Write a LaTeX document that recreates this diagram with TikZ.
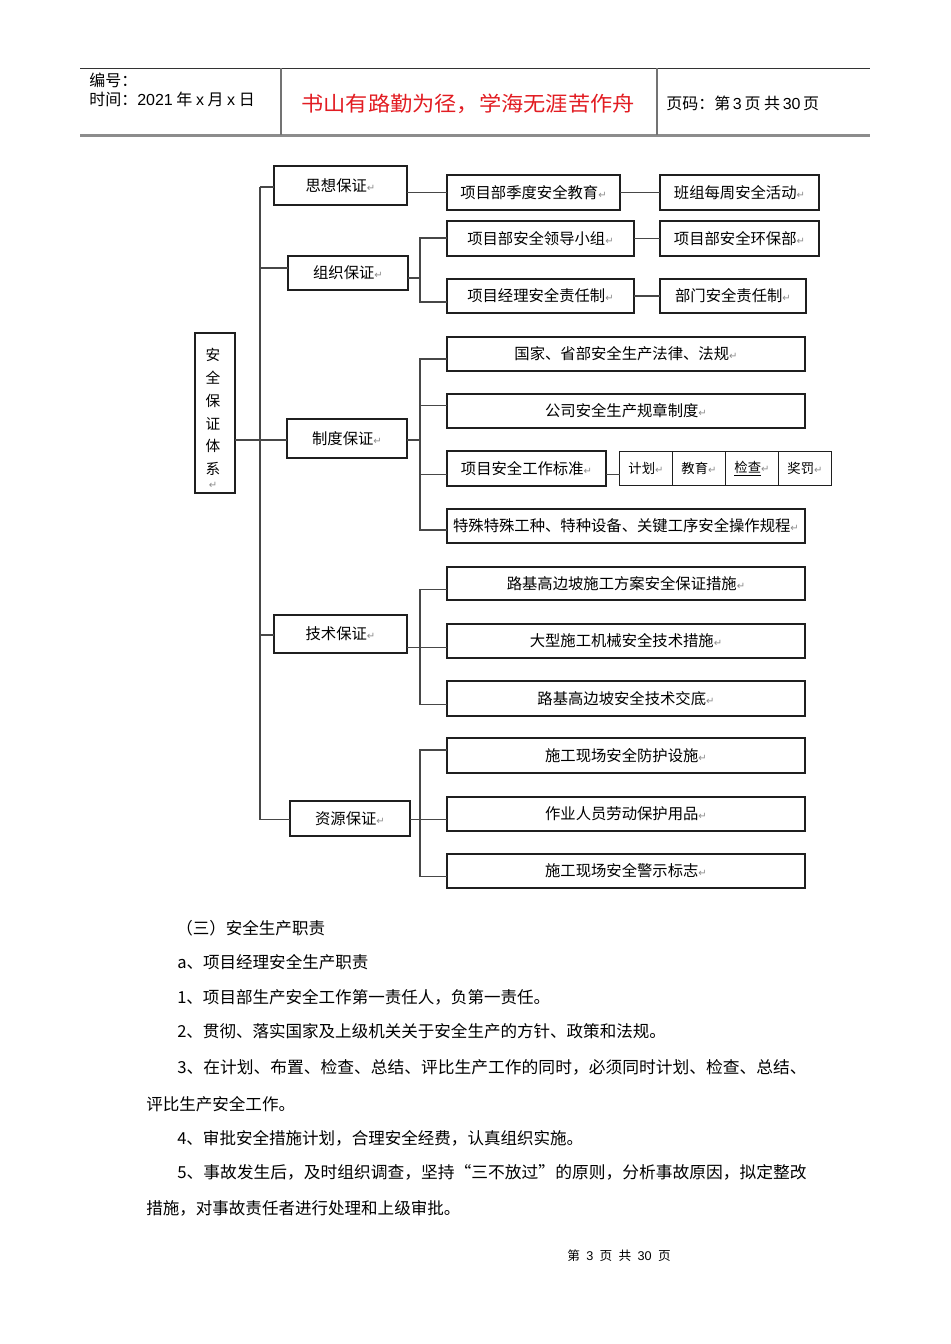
\documentclass[tikz,border=0pt]{standalone}
\usepackage{fontspec}
\usepackage{graphicx}
\setmainfont{Noto Sans CJK SC}
\newfontfamily\dvsfont{DejaVu Sans}
\newfontfamily\arialfont{Liberation Sans}
\definecolor{titlered}{RGB}{226,28,34}
\newcommand{\pmark}{{\dvsfont\fontsize{7.5pt}{7.5pt}\selectfont\textcolor{black!45}{↵}}}
\newcommand{\mybox}[6]{\node[box, minimum width={(#4-#2)*0.75pt}, minimum height={(#5-#3)*0.75pt}] (#1) at ({(#2+#4)/2},{(#3+#5)/2}) {#6};}
\tikzset{
  box/.style={draw=black!88, line width=1pt, inner sep=0pt, outer sep=0pt, fill=white, font=\fontsize{11.5pt}{13pt}\selectfont},
  link/.style={draw=black!72, line width=1pt},
  body/.style={anchor=west, inner sep=0pt, font=\fontsize{12.4pt}{14pt}\selectfont},
  head/.style={anchor=west, inner sep=0pt, font=\fontsize{12pt}{14pt}\selectfont},
}
\begin{document}
\begin{tikzpicture}[x=0.75pt,y=-0.75pt]
\fill[white] (0,0) rectangle (950,1344);
\useasboundingbox (0,0) rectangle (950,1344);

% ---------- header ----------
\draw[black!80, line width=0.9pt] (80,68.5) -- (870,68.5);
\draw[black!45, line width=1.6pt] (80,135.5) -- (870,135.5);
\draw[black!55, line width=0.8pt] (281,68.5) -- (281,135);
\draw[black!55, line width=0.8pt] (657,68.5) -- (657,135);
\node[head] (bianhao) at (89,80) {编号：};
\node[head] (shijian) at (89,99.5) {时间：{\arialfont 2021} 年 {\arialfont x} 月 {\arialfont x} 日};
\node[inner sep=0pt, font=\fontsize{15.5pt}{18pt}\selectfont, text=titlered] (title) at (468,104) {\resizebox{250pt}{\height}{书山有路勤为径，学海无涯苦作舟}};
\node[head] (yema) at (666,103) {页码：第\,{\arialfont 3}\,页\ 共\,{\arialfont 30}\,页};

% ---------- chart boxes ----------
\mybox{sys}{195}{333}{235}{493}{}
\node[inner sep=0pt, align=center, font=\fontsize{11pt}{17.1pt}\selectfont] (systext) at (213,412) {安\\全\\保\\证\\体\\系};
\node[inner sep=0pt] (systail) at (213,485) {\pmark};

\mybox{sixiang}{274}{166}{407}{205}{思想保证\pmark}
\mybox{jiaoyu}{447}{175}{620}{210}{项目部季度安全教育\pmark}
\mybox{banzu}{660}{175}{819}{210}{班组每周安全活动\pmark}

\mybox{zuzhi}{288}{256}{408}{290}{组织保证\pmark}
\mybox{lingdao}{447}{221}{634}{256}{项目部安全领导小组\pmark}
\mybox{huanbao}{660}{221}{819}{256}{项目部安全环保部\pmark}
\mybox{zeren}{447}{279}{634}{313}{项目经理安全责任制\pmark}
\mybox{bumen}{660}{279}{806}{313}{部门安全责任制\pmark}

\mybox{zhidu}{287}{419}{407}{458}{制度保证\pmark}
\mybox{guojia}{447}{337}{805}{371}{国家、省部安全生产法律、法规\pmark}
\mybox{gongsi}{447}{394}{805}{428}{公司安全生产规章制度\pmark}
\mybox{biaozhun}{447}{451}{606}{486}{项目安全工作标准\pmark}
\mybox{jihua}{619.5}{451.5}{672.5}{485.5}{{\fontsize{10pt}{12pt}\selectfont 计划}\pmark}
\mybox{jiaoyusub}{672.5}{451.5}{725.5}{485.5}{{\fontsize{10pt}{12pt}\selectfont 教育}\pmark}
\mybox{jiancha}{725.5}{451.5}{778.5}{485.5}{{\fontsize{10pt}{12pt}\selectfont \underline{检查}}\pmark}
\mybox{jiangfa}{778.5}{451.5}{831.5}{485.5}{{\fontsize{10pt}{12pt}\selectfont 奖罚}\pmark}
\mybox{teshu}{447}{509}{805}{543}{特殊特殊工种、特种设备、关键工序安全操作规程\pmark}

\mybox{jishu}{274}{615}{407}{653}{技术保证\pmark}
\mybox{lujifa}{447}{567}{805}{600}{路基高边坡施工方案安全保证措施\pmark}
\mybox{daxing}{447}{624}{805}{658}{大型施工机械安全技术措施\pmark}
\mybox{jiaodi}{447}{681}{805}{716}{路基高边坡安全技术交底\pmark}

\mybox{ziyuan}{290}{801}{410}{836}{资源保证\pmark}
\mybox{fanghu}{447}{738}{805}{773}{施工现场安全防护设施\pmark}
\mybox{zuoye}{447}{797}{805}{831}{作业人员劳动保护用品\pmark}
\mybox{jingshi}{447}{854}{805}{888}{施工现场安全警示标志\pmark}

% ---------- spine ----------
\coordinate (s1) at (260,187);
\coordinate (s2) at (260,268);
\coordinate (s3) at (260,440);
\coordinate (s4) at (260,635);
\coordinate (s5) at (260,819.5);
\draw[link] (s1) -- (s5);
\draw[link] (s1) -- (s1 -| sixiang.west);
\draw[link] (s2) -- (s2 -| zuzhi.west);
\draw[link] (sys.east |- s3) -- (s3) -- (s3 -| zhidu.west);
\draw[link] (s4) -- (s4 -| jishu.west);
\draw[link] (s5) -- (s5 -| ziyuan.west);

% ---------- 思想保证 ----------
\draw[link] (sixiang.east |- jiaoyu.west) -- (jiaoyu.west);
\draw[link] (jiaoyu.east) -- (jiaoyu.east -| banzu.west);

% ---------- 组织保证 ----------
\coordinate (z0) at (420,278);
\coordinate (z1) at (420,238);
\coordinate (z2) at (420,302);
\draw[link] (z0 -| zuzhi.east) -- (z0);
\draw[link] (z1 -| lingdao.west) -- (z1) -- (z2) -- (z2 -| zeren.west);
\draw[link] (lingdao.east) -- (lingdao.east -| huanbao.west);
\draw[link] (zeren.east) -- (zeren.east -| bumen.west);

% ---------- 制度保证 ----------
\coordinate (d0) at (420,440);
\coordinate (d1) at (420,359);
\coordinate (d2) at (420,405.5);
\coordinate (d3) at (420,474.5);
\coordinate (d4) at (420,530);
\draw[link] (d0 -| zhidu.east) -- (d0);
\draw[link] (d1 -| guojia.west) -- (d1) -- (d4) -- (d4 -| teshu.west);
\draw[link] (d2) -- (d2 -| gongsi.west);
\draw[link] (d3) -- (d3 -| biaozhun.west);
\draw[link] (d3 -| biaozhun.east) -- (d3 -| jihua.west);

% ---------- 技术保证 ----------
\coordinate (j0) at (420,647.5);
\coordinate (j1) at (420,589.5);
\coordinate (j3) at (420,704.5);
\draw[link] (j0 -| jishu.east) -- (j0 -| daxing.west);
\draw[link] (j1 -| lujifa.west) -- (j1) -- (j3) -- (j3 -| jiaodi.west);

% ---------- 资源保证 ----------
\coordinate (r0) at (420,819.5);
\coordinate (r1) at (420,750);
\coordinate (r3) at (420,876.5);
\draw[link] (r0 -| ziyuan.east) -- (r0 -| zuoye.west);
\draw[link] (r1 -| fanghu.west) -- (r1) -- (r3) -- (r3 -| jingshi.west);

% ---------- body text ----------
\node[body] (h3) at (176,928) {（三）安全生产职责};
\node[body] (la) at (177,962) {a、项目经理安全生产职责};
\node[body] (l1) at (177,997.5) {1、项目部生产安全工作第一责任人，负第一责任。};
\node[body] (l2) at (177,1031.5) {2、贯彻、落实国家及上级机关关于安全生产的方针、政策和法规。};
\node[body] (l3) at (177,1067) {\resizebox{472pt}{\height}{3、在计划、布置、检查、总结、评比生产工作的同时，必须同时计划、检查、总结、}};
\node[body] (l3b) at (146,1104) {评比生产安全工作。};
\node[body] (l4) at (177,1138) {4、审批安全措施计划，合理安全经费，认真组织实施。};
\node[body] (l5) at (177,1172.5) {\resizebox{472pt}{\height}{5、事故发生后，及时组织调查，坚持“三不放过”的原则，分析事故原因，拟定整改}};
\node[body] (l5b) at (146,1208.5) {措施，对事故责任者进行处理和上级审批。};

% ---------- footer ----------
\node[inner sep=0pt, font=\fontsize{9.5pt}{11pt}\selectfont] (foot) at (619,1256) {第\hspace{0.5em}{\arialfont 3}\hspace{0.5em}页\hspace{0.5em}共\hspace{0.5em}{\arialfont 30}\hspace{0.5em}页};
\end{tikzpicture}
\end{document}
